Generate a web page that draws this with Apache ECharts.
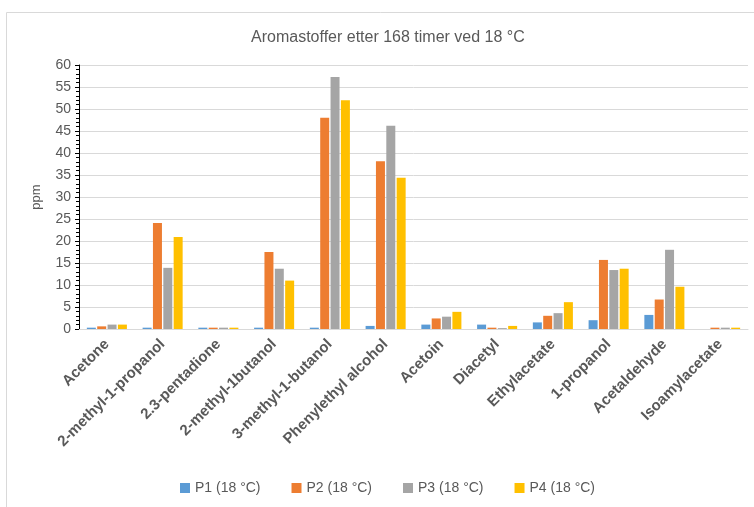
<!DOCTYPE html>
<html><head><meta charset="utf-8">
<script src="https://cdn.jsdelivr.net/npm/echarts@6/dist/echarts.min.js"></script>
<style>html,body{margin:0;padding:0;background:#fff}#c{width:754px;height:507px}</style>
</head><body><div id="c"></div>
<script>
const categories = ['Acetone','2-methyl-1-propanol','2.3-pentadione','2-methyl-1butanol','3-methyl-1-butanol','Phenylethyl alcohol','Acetoin','Diacetyl','Ethylacetate','1-propanol','Acetaldehyde','Isoamylacetate'];
const seriesNames = ['P1 (18 °C)','P2 (18 °C)','P3 (18 °C)','P4 (18 °C)'];
const p1 = [0.3, 0.3, 0.3, 0.3, 0.3, 0.7, 1.0, 1.0, 1.5, 2.0, 3.2, 0];
const p2 = [0.6, 24.1, 0.3, 17.5, 48.0, 38.1, 2.4, 0.3, 3.0, 15.7, 6.7, 0.3];
const p3 = [1.0, 13.9, 0.3, 13.7, 57.3, 46.2, 2.8, 0.2, 3.6, 13.4, 18.0, 0.3];
const p4 = [1.0, 20.9, 0.3, 11.0, 52.0, 34.4, 3.9, 0.7, 6.1, 13.7, 9.6, 0.3];
const yTicks = {min: 0, max: 60, interval: 5};
const colors = ['#5B9BD5','#ED7D31','#A5A5A5','#FFC000'];
const data = [p1, p2, p3, p4];
const txt = '#595959';
const chart = echarts.init(document.getElementById('c'));
chart.setOption({
  animation: false,
  color: colors,
  graphic: [{type:'rect', shape:{x:6.5,y:12.5,width:760,height:520}, style:{fill:'none', stroke:'#D9D9D9', lineWidth:1}, silent:true}],
  title: {text:'Aromastoffer etter 168 timer ved 18 °C', left:246, top:25,
    textStyle:{fontFamily:'Liberation Sans', fontSize:16, fontWeight:'normal', color:txt}},
  grid: {left:79, right:6, top:65, bottom:178, containLabel:false},
  legend: {bottom:7, left:175, itemWidth:10, itemHeight:10, itemGap:31, icon:'rect',
    textStyle:{fontFamily:'Liberation Sans', fontSize:14, color:txt}, data: seriesNames},
  xAxis: {type:'category', data:categories,
    axisLine:{lineStyle:{color:'#D9D9D9'}}, axisTick:{show:false},
    axisLabel:{interval:0, rotate:45, margin:13, fontFamily:'Liberation Sans', fontSize:15, fontWeight:'bold', color:txt}},
  yAxis: {type:'value', min:yTicks.min, max:yTicks.max, interval:yTicks.interval,
    name:'ppm', nameLocation:'middle', nameGap:36, nameRotate:90,
    nameTextStyle:{fontFamily:'Liberation Sans', fontSize:13, color:txt},
    axisLine:{show:true, lineStyle:{color:'#000'}},
    axisTick:{show:true, inside:false, length:4, lineStyle:{color:'#000'}},
    minorTick:{show:true, splitNumber:5, length:3, lineStyle:{color:'#000'}},
    splitLine:{lineStyle:{color:'#D9D9D9'}},
    axisLabel:{margin:8, fontFamily:'Liberation Sans', fontSize:14, color:txt}},
  series: seriesNames.map((n,i)=>({name:n, type:'bar', data:data[i], barWidth:9, barGap:'15%',
    itemStyle:{color:colors[i]}}))
});
</script></body></html>
